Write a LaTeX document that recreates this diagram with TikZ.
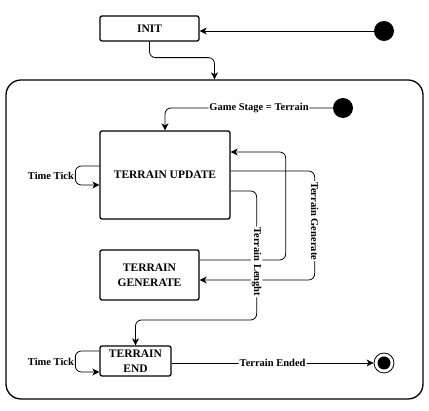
\documentclass[tikz,border=0pt]{standalone}
\usepackage{fontspec}
\setmainfont{Liberation Serif}
\usetikzlibrary{arrows.meta,positioning}
\tikzset{>={Stealth[length=7pt,width=7pt,inset=2pt]}}
\colorlet{penColor}{black}
\colorlet{fill1}{white}
\tikzset{
    state/.style={draw=penColor,line width=1.3pt,fill=fill1,rounded corners=2pt,align=center,
        inner sep=1pt,font=\bfseries\fontsize{11.5}{15}\selectfont},
    trans/.style={->,draw=penColor,line width=0.8pt,rounded corners=6pt},
    lbl/.style={fill=white,inner sep=1pt,font=\bfseries\fontsize{10.5}{12}\selectfont},
    startdot/.style={circle,fill=penColor,minimum size=20pt,inner sep=0pt},
    stopring/.style={circle,draw=penColor,line width=0.8pt,fill=white,minimum size=20pt,inner sep=0pt}
}

\begin{document}
\begin{tikzpicture}[x=1pt,y=-1pt]
    \useasboundingbox (0,0) rectangle (429,411);
    % outer state
    \node [draw=penColor,line width=1.3pt,rounded corners=15pt,minimum width=417pt,minimum height=319pt]
        (stage) at (214.5,239.5) {};
    % states
    \node [state,minimum width=99pt,minimum height=25pt] (init) at (149.5,28.5) {INIT};
    \node [state,minimum width=130pt,minimum height=88pt] (update) at (165,175) {TERRAIN UPDATE};
    \node [state,minimum width=99pt,minimum height=50pt] (gen) at (149.5,275) {TERRAIN\\GENERATE};
    \node [state,minimum width=71pt,minimum height=30pt] (tend) at (135.5,361) {TERRAIN\\END};
    \node [startdot] (start) at (384,31) {};
    \node [startdot] (gstart) at (343,108) {};
    \node [stopring] (stop) at (384,363) {};
    \node [startdot,minimum size=13pt] (stopdot) at (stop) {};
    % transitions
    \draw [trans] (start) -- (start -| init.east);
    \draw [trans] (init.south) -- ++(0,16) -| (stage.north);
    \draw [trans] (gstart) -| node [lbl,pos=0.22] {Game Stage = Terrain} (update.north);
    \draw [trans] ([yshift=9pt]update.west) -- ++(-24,0) |- node [lbl,pos=0.25,left,fill=none] {Time Tick}
        ([yshift=-10pt]update.west);
    \draw [trans] ([yshift=15pt]gen.east) -- ++(86,0) |- ([yshift=23pt]update.east);
    \draw [trans] ([yshift=4pt]update.east) -- ++(84,0) |- node [lbl,pos=0.23,rotate=-90] {Terrain Generate}
        ([yshift=-5pt]gen.east);
    \draw [trans] ([yshift=-16pt]update.east) -- ++(26,0) -- node [lbl,pos=0.55,rotate=-90] {Terrain Lenght}
        ++(0,129) -| (tend.north);
    \draw [trans] ([yshift=10pt]tend.west) -- ++(-24,0) |- node [lbl,pos=0.25,left,fill=none] {Time Tick}
        ([yshift=-11pt]tend.west);
    \draw [trans] (tend.east |- stop) -- node [lbl] {Terrain Ended} (stop);
\end{tikzpicture}
\end{document}
